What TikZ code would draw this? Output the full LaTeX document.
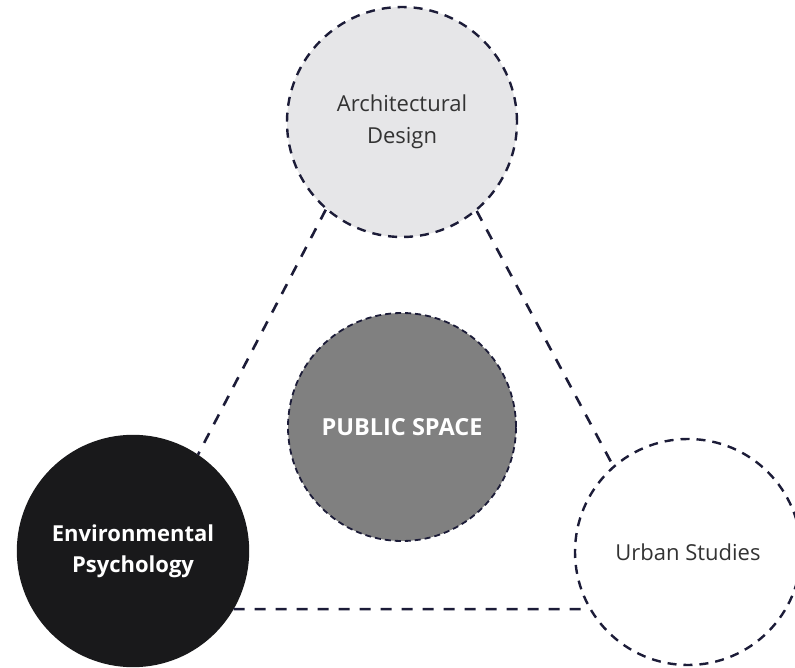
\documentclass[tikz,border=0pt]{standalone}
\usepackage{fontspec}
\setmainfont{Open Sans}
\definecolor{dashcol}{HTML}{1C1C38}
\definecolor{archfill}{HTML}{E6E6E8}
\definecolor{pubfill}{HTML}{808080}
\definecolor{envfill}{HTML}{19191B}
\definecolor{txtdark}{HTML}{333333}
\begin{document}
\begin{tikzpicture}[x=1pt,y=-1pt,
  circ/.style={circle,minimum size=230pt,inner sep=0pt,draw=dashcol,line width=2.4pt,
    dash pattern=on 9pt off 7pt,align=center,font=\fontsize{22}{32}\selectfont},
  link/.style={draw=dashcol,line width=2.6pt,dash pattern=on 11pt off 10pt}]
\useasboundingbox (0,0) rectangle (795,668);
\node[circ,fill=archfill,text=txtdark] (arch) at (402,122) {Architectural\\Design};
\node[circ,fill=pubfill,text=white,line width=1.8pt,dash pattern=on 6pt off 4pt,
  minimum size=228pt,font=\bfseries\fontsize{23.5}{32}\selectfont] (pub) at (402,427) {PUBLIC SPACE};
\node[circ,fill=envfill,draw=envfill,text=white,solid,font=\bfseries\fontsize{22}{31}\selectfont] (env) at (133,551) {Environmental\\Psychology};
\node[circ,fill=white,text=txtdark,minimum size=226pt] (urb) at (688,552) {Urban Studies};
\draw[link] (arch.229) -- (env.56);
\draw[link] (arch.310) -- (urb.131);
\draw[link] (env.-30) -- (urb.210);
\end{tikzpicture}
\end{document}
